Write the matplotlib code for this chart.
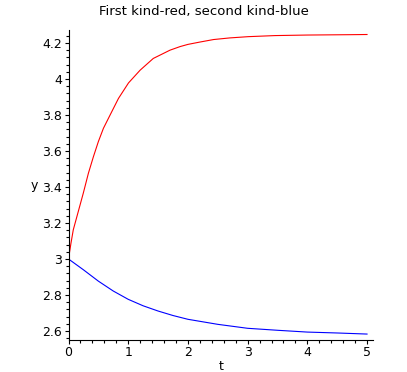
import matplotlib
matplotlib.use("Agg")
import matplotlib.pyplot as plt
from matplotlib.ticker import MultipleLocator

# values
t_red = [0, 0.04, 0.08, 0.164, 0.248, 0.333, 0.417, 0.5, 0.585, 0.697, 0.837, 1.005, 1.2, 1.42,
         1.7, 1.87, 2.0, 2.2, 2.43, 2.7, 3.01, 3.46, 4.0, 4.72, 5.0]
y_red = [3.0, 3.085, 3.162, 3.264, 3.366, 3.476, 3.568, 3.652, 3.726, 3.80, 3.892, 3.978, 4.049, 4.114,
         4.16, 4.18, 4.192, 4.205, 4.219, 4.228, 4.235, 4.241, 4.244, 4.246, 4.247]

t_blue = [0, 0.25, 0.5, 0.75, 1.0, 1.25, 1.5, 1.75, 2.0, 2.5, 3.0, 3.5, 4.0, 4.5, 5.0]
y_blue = [3.0, 2.94, 2.877, 2.822, 2.776, 2.74, 2.711, 2.686, 2.665, 2.637, 2.615, 2.604, 2.594, 2.589, 2.583]

plt.rcParams['font.family'] = ['DejaVu Sans']

fig = plt.figure(figsize=(4.07, 3.72), dpi=100)
ax = fig.add_axes([68.5/407, 1 - 340/372, 304.5/407, 310/372])

ax.plot(t_red, y_red, color="red", linewidth=0.8)
ax.plot(t_blue, y_blue, color="blue", linewidth=0.8)

ax.set_xlim(0, 5.1)
ax.set_ylim(2.55, 4.272)

ax.spines['top'].set_visible(False)
ax.spines['right'].set_visible(False)
for s in ('left', 'bottom'):
    ax.spines[s].set_linewidth(0.8)

ax.xaxis.set_major_locator(MultipleLocator(1))
ax.xaxis.set_minor_locator(MultipleLocator(0.2))
ax.yaxis.set_major_locator(MultipleLocator(0.2))
ax.yaxis.set_minor_locator(MultipleLocator(0.04))
ax.yaxis.set_major_formatter(plt.FuncFormatter(lambda v, p: ('%.1f' % v).rstrip('0').rstrip('.')))

ax.tick_params(which='major', direction='out', length=3, width=0.8, labelsize=9, pad=1.5)
ax.tick_params(which='minor', direction='out', length=2, width=0.8)

ax.set_xlabel('t', fontsize=9)
ax.xaxis.set_label_coords(0.5, -0.066)
ax.set_ylabel('y', fontsize=9, rotation=0, ha='right', va='center')
ax.yaxis.set_label_coords(-0.1, 0.5)

fig.text(0.5, 1 - 12/372, "First kind-red, second kind-blue", ha='center', va='center', fontsize=9.5)

fig.savefig("out.png", dpi=100)
